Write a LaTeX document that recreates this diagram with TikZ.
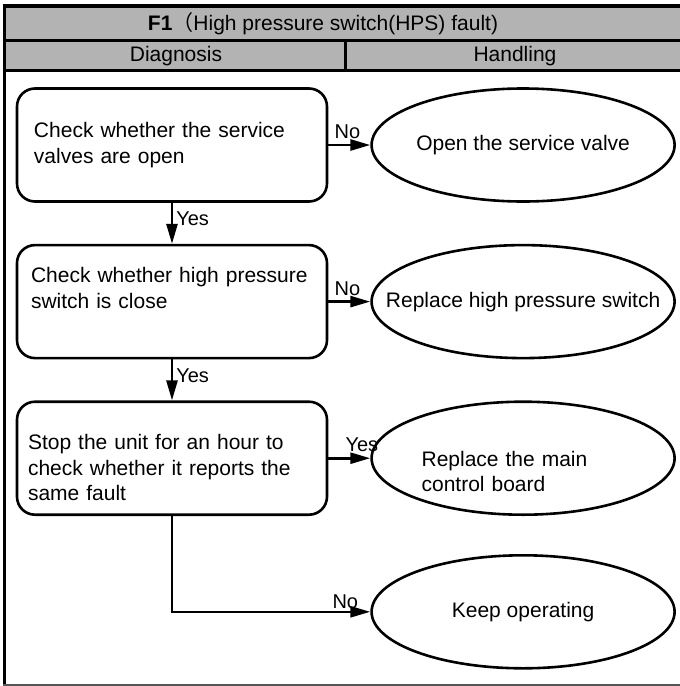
\documentclass[tikz,border=0pt]{standalone}
\usepackage{fontspec}
\setmainfont{Liberation Sans}
\newfontfamily\cjk{Noto Sans CJK SC}
\usetikzlibrary{positioning,arrows.meta,shapes.geometric}
\definecolor{hdrgray}{HTML}{B3B3B3}
\definecolor{rulegray}{HTML}{555555}
\tikzset{
  chk/.style={rectangle,rounded corners=18pt,draw=black,line width=2.6pt,
    minimum width=310pt,minimum height=113pt,text width=276pt,align=left,inner xsep=17pt},
  act/.style={ellipse,draw=black,line width=2.6pt,minimum width=303pt,
    minimum height=113pt,align=center,inner sep=0pt},
  ar/.style={-{Triangle[length=20pt,width=11pt]},line width=2.6pt},
  lbl/.style={font=\fontsize{20}{24}\selectfont,inner sep=2pt},
  hdr/.style={font=\fontsize{21}{25}\selectfont,inner sep=0pt},
}

\begin{document}
\begin{tikzpicture}[x=1pt,y=-1pt,font=\fontsize{21}{25.5}\selectfont]
  \useasboundingbox (0,0) rectangle (680,686);
  % table head
  \fill[hdrgray] (5,7) rectangle (680,70);
  \draw[line width=4pt] (3,6) -- (680,6);
  \draw[line width=3pt] (5,40.5) -- (680,40.5);
  \draw[line width=3pt] (5,70.5) -- (680,70.5);
  \draw[line width=3pt] (345,40) -- (345,70);
  \draw[line width=3pt] (4.5,4) -- (4.5,684);
  \draw[rulegray,line width=2pt] (3,684.5) -- (680,684.5);
  \node[hdr] (title) at (323,24) {\textbf{F1}{\cjk （}High pressure switch(HPS) fault)};
  \node[hdr] (diag) at (176,56) {Diagnosis};
  \node[hdr] (hand) at (515,56) {Handling};
  % diagnosis steps
  \node[chk] (chk1) at (172,145) {Check whether the service\\valves are open};
  \node[chk,below=41pt of chk1,text width=282pt,inner xsep=14pt] (chk2)
    {Check whether high pressure\\switch is close\rule[-27pt]{0pt}{0pt}};
  \node[chk,below=41pt of chk2,text width=288pt,inner xsep=11pt] (chk3)
    {\rule{0pt}{34pt}Stop the unit for an hour to\\check whether it reports the\\same fault};
  % handling
  \node[act,right=42pt of chk1] (act1) {Open the service valve};
  \node[act,right=42pt of chk2] (act2) {\makebox[0pt]{Replace high pressure switch}};
  \node[act,right=42pt of chk3,align=left,text width=203pt] (act3)
    {\rule{0pt}{42pt}Replace the main\\control board};
  \node[act,below=38pt of act3] (act4) {Keep operating};
  % connectors
  \draw[ar] (chk1) -- node[lbl,pos=0,anchor=south west,xshift=3pt,yshift=3pt] (no1) {No} (act1);
  \draw[ar] (chk2) -- node[lbl,pos=0,anchor=south west,xshift=3pt,yshift=3pt] (no2) {No} (act2);
  \draw[ar] (chk3) -- node[lbl,pos=0,anchor=south west,xshift=14pt,yshift=3pt] (yes3) {Yes} (act3);
  \draw[ar] (chk1) -- node[lbl,right,pos=0.4,xshift=1pt] (yes1) {Yes} (chk2);
  \draw[ar] (chk2) -- node[lbl,right,pos=0.4,xshift=1pt] (yes2) {Yes} (chk3);
  \draw[ar] (chk3.south) |- (act4.west);
  \node[lbl,above left=1pt and 10pt of act4.west] (no3) {No};
\end{tikzpicture}
\end{document}
